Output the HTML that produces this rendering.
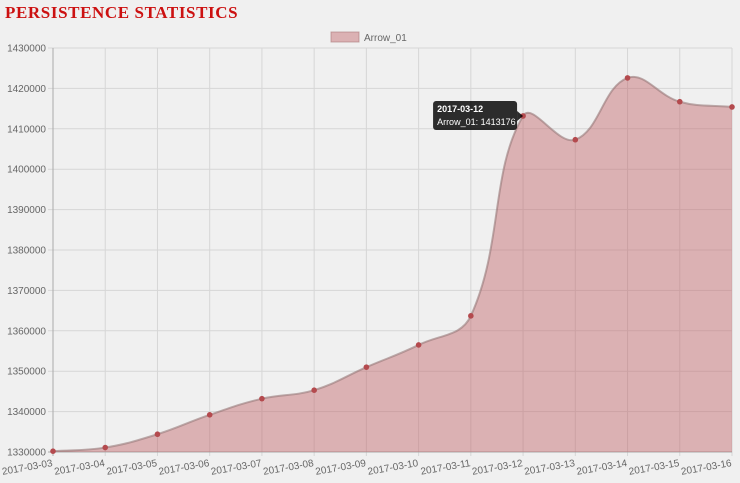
<!DOCTYPE html>
<html><head><meta charset="utf-8"><style>
body{margin:0;background:#f0f0f0;width:740px;height:483px;overflow:hidden;font-family:"Liberation Sans",sans-serif}
h1{position:absolute;left:5px;top:3px;margin:0;font-family:"Liberation Serif",serif;font-weight:bold;font-size:17px;color:#cc1111;letter-spacing:0.6px}
svg{position:absolute;left:0;top:0}
</style></head><body>
<h1>PERSISTENCE STATISTICS</h1>
<svg id="c" width="740" height="483"></svg>
<script>
const categories=["2017-03-03","2017-03-04","2017-03-05","2017-03-06","2017-03-07","2017-03-08","2017-03-09","2017-03-10","2017-03-11","2017-03-12","2017-03-13","2017-03-14","2017-03-15","2017-03-16"];
const values=[1330200,1331100,1334400,1339200,1343200,1345300,1351000,1356500,1363700,1413176,1407300,1422600,1416700,1415400];
const yTicks=[1330000,1340000,1350000,1360000,1370000,1380000,1390000,1400000,1410000,1420000,1430000];
const seriesName="Arrow_01";
const tooltipIndex=9;
const NS="http://www.w3.org/2000/svg",svg=document.getElementById('c');
const X0=53,X1=732,Y0=452,Y1=48,yMin=1330000,yMax=1430000;
const xs=i=>X0+(X1-X0)*i/(categories.length-1);
const ys=v=>Y0-(v-yMin)/(yMax-yMin)*(Y0-Y1);
function mk(t,a,p){const e=document.createElementNS(NS,t);for(const k in a)e.setAttribute(k,a[k]);(p||svg).appendChild(e);return e;}
yTicks.forEach(v=>{const y=ys(v);
 const l=mk('line',{x1:X0-5,x2:X1,y1:y,y2:y,stroke:'#d6d6d6'});
 
 
 const t=mk('text',{x:X0-7,y:y+3.5,'text-anchor':'end','font-size':'10',fill:'#666'});t.textContent=v;
 
 });
categories.forEach((c,i)=>{const x=xs(i);
 const l=mk('line',{x1:x,x2:x,y1:Y1,y2:Y0+4,stroke:i==0?'#aaa':'#d6d6d6'});
 
 
 const t=mk('text',{x:x,y:Y0+14,'text-anchor':'end','font-size':'10',fill:'#666',transform:`rotate(-10 ${x} ${Y0+14})`});t.textContent=c;
 
 });
mk('line',{x1:X0-5,x2:X1,y1:Y0,y2:Y0,stroke:'#aaa'});
const pts=values.map((v,i)=>({x:xs(i),y:ys(v)}));
const T=0.4;
function cps(p0,p1,p2){const d01=Math.hypot(p1.x-p0.x,p1.y-p0.y),d12=Math.hypot(p2.x-p1.x,p2.y-p1.y);
 let fa=d01/(d01+d12)||0,fb=d12/(d01+d12)||0;fa*=T;fb*=T;
 return{p:{x:p1.x-fa*(p2.x-p0.x),y:p1.y-fa*(p2.y-p0.y)},n:{x:p1.x+fb*(p2.x-p0.x),y:p1.y+fb*(p2.y-p0.y)}};}
const C=pts.map((p,i)=>cps(pts[Math.max(i-1,0)],p,pts[Math.min(i+1,pts.length-1)]));
let d=`M${pts[0].x},${pts[0].y}`;
for(let i=1;i<pts.length;i++){d+=` C${C[i-1].n.x},${C[i-1].n.y} ${C[i].p.x},${C[i].p.y} ${pts[i].x},${pts[i].y}`;}
const area=mk('path',{d:d+` L${X1},${Y0} L${X0},${Y0} Z`,fill:'rgba(190,90,95,0.42)'});


const line=mk('path',{d:d,fill:'none',stroke:'rgba(150,120,120,0.6)','stroke-width':'2'});


pts.forEach(p=>{const c=mk('circle',{cx:p.x,cy:p.y,r:2.8,fill:'#b44a4e'});
 
 });
const lg=mk('g',{});


mk('rect',{x:331,y:32,width:28,height:10,fill:'rgba(190,90,95,0.42)',stroke:'rgba(170,120,120,0.6)'},lg);
const lt=mk('text',{x:364,y:41,'font-size':'10',fill:'#666'},lg);lt.textContent=seriesName;
const tp=pts[tooltipIndex];
const tg=mk('g',{});


mk('rect',{x:tp.x-90,y:tp.y-15,width:84,height:29,rx:3,fill:'rgba(0,0,0,0.82)'},tg);
mk('path',{d:`M${tp.x-6},${tp.y-5} L${tp.x},${tp.y} L${tp.x-6},${tp.y+5}Z`,fill:'rgba(0,0,0,0.82)'},tg);
const t1=mk('text',{x:tp.x-86,y:tp.y-4,'font-size':'9','font-weight':'bold',fill:'#fff'},tg);t1.textContent=categories[tooltipIndex];
const t2=mk('text',{x:tp.x-86,y:tp.y+9,'font-size':'9',fill:'#fff'},tg);t2.textContent=seriesName+": "+values[tooltipIndex];
</script>
</body></html>
